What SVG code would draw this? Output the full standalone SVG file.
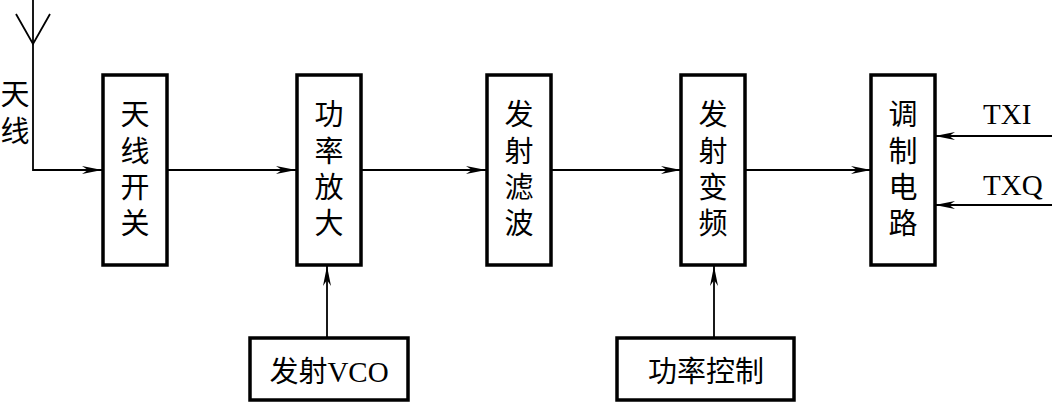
<svg xmlns="http://www.w3.org/2000/svg" width="1052" height="402" viewBox="0 0 1052 402">
<style>
.box{fill:#fff;stroke:#000;stroke-width:3.5}
.cn{font-family:"Noto Sans CJK SC","Noto Sans",sans-serif;font-size:29px;fill:#000;text-anchor:middle}
.en{font-family:"Liberation Serif","Times New Roman",serif;font-size:29px;fill:#000}
.mix{font-family:"Liberation Serif","Noto Sans CJK SC",serif;font-size:29px;fill:#000;text-anchor:middle}
.ln{fill:none;stroke:#000;stroke-width:1.8}
</style>
<defs>
<marker id="arr" markerUnits="userSpaceOnUse" markerWidth="24" markerHeight="12" viewBox="-22 -6 24 12" refX="0" refY="0" orient="auto">
<path d="M0,0 L-20,-4 L-14,0 L-20,4 Z" fill="#000"/>
</marker>
</defs>
<g id="connectors">
<path class="ln" d="M33,0 V170 H102" marker-end="url(#arr)"/>
<path class="ln" d="M16,14 L33,44 L50,14"/>
<path class="ln" d="M167,170 H296" marker-end="url(#arr)"/>
<path class="ln" d="M361,170 H486" marker-end="url(#arr)"/>
<path class="ln" d="M551,170 H681" marker-end="url(#arr)"/>
<path class="ln" d="M745,170 H871" marker-end="url(#arr)"/>
<path class="ln" d="M1052,136 H935" marker-end="url(#arr)"/>
<path class="ln" d="M1052,205 H935" marker-end="url(#arr)"/>
<path class="ln" d="M327,337 V266" marker-end="url(#arr)"/>
<path class="ln" d="M714,337 V266" marker-end="url(#arr)"/>
</g>
<g id="antenna-label">
<text class="cn" x="15" y="105">天</text>
<text class="cn" x="15" y="142">线</text>
</g>
<g id="ant-switch">
<rect class="box" x="103" y="75" width="64" height="190"/>
<text class="cn" x="135" y="125">天</text>
<text class="cn" x="135" y="162">线</text>
<text class="cn" x="135" y="198">开</text>
<text class="cn" x="135" y="234">关</text>
</g>
<g id="pa">
<rect class="box" x="297" y="75" width="64" height="190"/>
<text class="cn" x="329" y="125">功</text>
<text class="cn" x="329" y="162">率</text>
<text class="cn" x="329" y="198">放</text>
<text class="cn" x="329" y="234">大</text>
</g>
<g id="tx-filter">
<rect class="box" x="487" y="75" width="64" height="190"/>
<text class="cn" x="519" y="125">发</text>
<text class="cn" x="519" y="162">射</text>
<text class="cn" x="519" y="198">滤</text>
<text class="cn" x="519" y="234">波</text>
</g>
<g id="tx-mixer">
<rect class="box" x="681" y="75" width="64" height="190"/>
<text class="cn" x="713" y="125">发</text>
<text class="cn" x="713" y="162">射</text>
<text class="cn" x="713" y="198">变</text>
<text class="cn" x="713" y="234">频</text>
</g>
<g id="modulator">
<rect class="box" x="871" y="75" width="64" height="190"/>
<text class="cn" x="903" y="125">调</text>
<text class="cn" x="903" y="162">制</text>
<text class="cn" x="903" y="198">电</text>
<text class="cn" x="903" y="234">路</text>
</g>
<g id="txi"><text class="en" x="983" y="124">TXI</text></g>
<g id="txq"><text class="en" x="983" y="195">TXQ</text></g>
<g id="tx-vco">
<rect class="box" x="250" y="338" width="158" height="62"/>
<text class="mix" x="329" y="382"><tspan font-family="Noto Sans CJK SC">发射</tspan>VCO</text>
</g>
<g id="power-ctrl">
<rect class="box" x="617" y="338" width="177" height="62"/>
<text class="cn" x="706" y="382">功率控制</text>
</g>
</svg>
